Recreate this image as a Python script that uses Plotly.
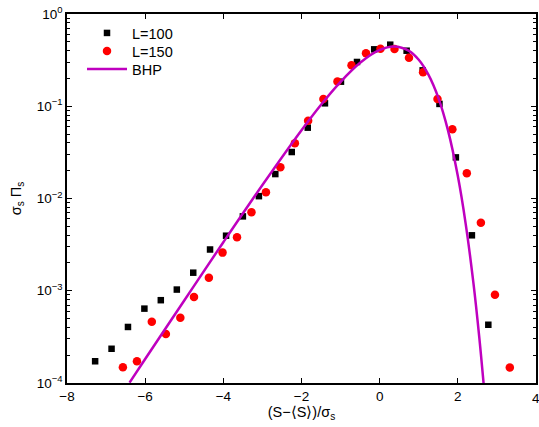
import plotly.graph_objects as go

# L=100 (black squares)
x100 = [-7.28, -6.86, -6.44, -6.02, -5.60, -5.19, -4.77, -4.34, -3.93, -3.50,
        -3.09, -2.67, -2.25, -1.84, -1.40, -0.99, -0.58, -0.14, 0.27, 0.69,
        1.10, 1.53, 1.95, 2.36, 2.78]
y100 = [1.72e-4, 2.35e-4, 4.05e-4, 6.4e-4, 7.9e-4, 1.03e-3, 1.57e-3, 2.8e-3, 3.95e-3, 6.4e-3,
        1.06e-2, 1.84e-2, 3.19e-2, 5.86e-2, 0.1076, 0.1846, 0.302, 0.414, 0.465, 0.40,
        0.245, 0.106, 0.0279, 3.99e-3, 4.28e-4]

# L=150 (red circles)
x150 = [-6.57, -6.21, -5.83, -5.47, -5.10, -4.75, -4.37, -4.02, -3.65, -3.28,
        -2.91, -2.54, -2.17, -1.83, -1.44, -1.08, -0.72, -0.35, 0.02, 0.38,
        0.75, 1.11, 1.48, 1.86, 2.23, 2.59, 2.95, 3.33]
y150 = [1.48e-4, 1.72e-4, 4.62e-4, 3.40e-4, 5.1e-4, 8.55e-4, 1.38e-3, 2.59e-3, 3.8e-3, 7.08e-3,
        1.17e-2, 2.18e-2, 3.97e-2, 6.97e-2, 0.12, 0.185, 0.278, 0.375, 0.42, 0.418,
        0.336, 0.233, 0.12, 0.0562, 0.0188, 5.47e-3, 9.06e-4, 1.47e-4]

# BHP curve
xbhp = [-6.4, -6.0, -5.0, -4.0, -3.0, -2.0, -1.5, -1.0, -0.5, 0.0, 0.37,
        0.75, 1.0, 1.25, 1.5, 1.75, 2.0, 2.2, 2.4, 2.55, 2.67]
ybhp = [1.01e-4, 1.82e-4, 7.85e-4, 3.36e-3, 1.40e-2, 5.5e-2, 0.104, 0.184, 0.296, 0.408, 0.445,
        0.399, 0.319, 0.219, 0.124, 0.0544, 0.0175, 5.35e-3, 1.20e-3, 3.09e-4, 8.8e-5]

xticks = [-8, -6, -4, -2, 0, 2, 4]
xticktext = ["\u22128", "\u22126", "\u22124", "\u22122", "0", "2", ""]
last_xtick_label = "4"
yticks = [1e-4, 1e-3, 1e-2, 1e-1, 1]
yticktext = ["10<sup>\u22124</sup>", "10<sup>\u22123</sup>", "10<sup>\u22122</sup>",
             "10<sup>\u22121</sup>", "10<sup>0</sup>"]

minor_y = []
for e in [-4, -3, -2, -1]:
    for m in range(2, 10):
        minor_y.append(m * 10 ** e)

fig = go.Figure()
fig.add_trace(go.Scatter(x=x100, y=y100, mode="markers", name="L=100", legend="legend",
                         marker=dict(symbol="square", size=6.5, color="black")))
fig.add_trace(go.Scatter(x=x150, y=y150, mode="markers", name="L=150", legend="legend2",
                         marker=dict(symbol="circle", size=8.5, color="#FF0000")))
fig.add_trace(go.Scatter(x=xbhp, y=ybhp, mode="lines", name="BHP", legend="legend3",
                         line=dict(color="#BF00BF", width=2.5, shape="spline")))

font = dict(family="Liberation Sans, Arial, sans-serif", size=14, color="black")

def leg(yrow):
    return dict(x=0.032, y=yrow, xanchor="left", yanchor="middle",
                bgcolor="rgba(0,0,0,0)", borderwidth=0,
                font=dict(size=14.5), itemwidth=40)

fig.update_layout(
    width=539, height=427,
    margin=dict(l=67, r=3, t=14, b=44),
    paper_bgcolor="white", plot_bgcolor="white",
    font=font,
    showlegend=True,
    legend=leg(0.9485),
    legend2=leg(0.8997),
    legend3=leg(0.8510),
)
# last x tick label sits on the figure's right edge
fig.add_annotation(x=xticks[-1], y=0, xref="x", yref="paper", text=last_xtick_label,
                   showarrow=False, xanchor="center", yanchor="middle", yshift=-15,
                   font=dict(size=13.5))
fig.update_xaxes(
    range=[-8, 4], tickmode="array", tickvals=xticks, ticktext=xticktext,
    ticks="inside", ticklen=5, tickwidth=1, tickcolor="black",
    showline=True, linecolor="black", linewidth=1.5, mirror="ticks",
    showgrid=False, zeroline=False, automargin=False, ticklabeloverflow="allow",
    tickfont=dict(size=13.5),
    title=dict(text="(S\u2212\u27e8S\u27e9)/\u03c3<sub>s</sub>", standoff=2, font=dict(size=14.5)),
)
fig.update_yaxes(
    type="log", range=[-4, 0], tickmode="array", tickvals=yticks, ticktext=yticktext,
    ticks="inside", ticklen=5, tickwidth=1, tickcolor="black",
    showline=True, linecolor="black", linewidth=1.5, mirror="ticks",
    showgrid=False, zeroline=False, automargin=False, ticklabeloverflow="allow",
    tickfont=dict(size=13.5),
    minor=dict(tickmode="array", tickvals=minor_y, ticks="inside", ticklen=3,
               tickcolor="black", showgrid=False),
    title=dict(text="\u03c3<sub>s</sub> \u03a0<sub>s</sub>", standoff=12, font=dict(size=14.5)),
)

fig.write_html("out.html", config={"displayModeBar": False},
               post_script="document.body.style.margin='0';document.body.style.overflow='hidden';")
